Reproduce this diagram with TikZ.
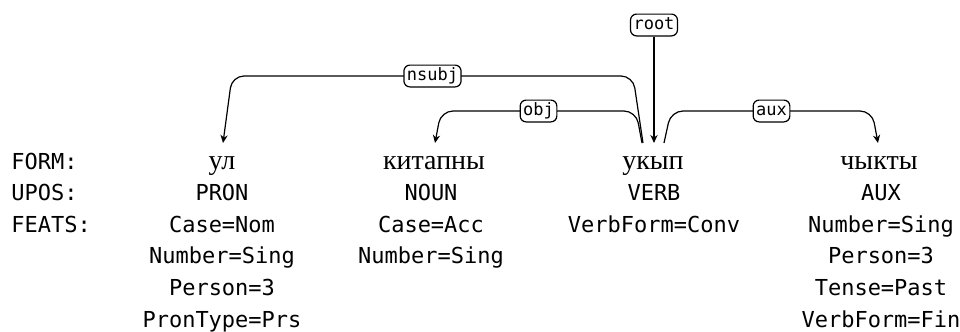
\documentclass[tikz,border=0pt]{standalone}
\usepackage{fontspec}
\setmonofont{DejaVu Sans Mono}
\newfontfamily\cyr{Liberation Serif}
\usetikzlibrary{arrows.meta}
\tikzset{
  cell/.style={anchor=base, inner sep=0pt, font=\ttfamily\fontsize{11}{13}\selectfont},
  hdr/.style={anchor=base west, inner sep=0pt, font=\ttfamily\fontsize{11}{13}\selectfont},
  word/.style={anchor=base, inner sep=0pt, font=\cyr\fontsize{14}{16}\selectfont},
  rel/.style={draw, line width=0.6pt, rounded corners=3pt, fill=white,
    font=\ttfamily\fontsize{8.5}{10}\selectfont, inner xsep=1.5pt, inner ysep=1.2pt,
    text height=6.5pt, text depth=2pt},
  arc/.style={draw, line width=0.6pt, rounded corners=6pt, -{Stealth[length=4pt,width=3.6pt]}},
}
\begin{document}
\begin{tikzpicture}[x=0.5pt,y=-0.5pt]
\useasboundingbox (0,0) rectangle (960,332);
% header labels
\node[hdr] (hform)  at (11,169)   {FORM:};
\node[hdr] (hupos)  at (11,200.6) {UPOS:};
\node[hdr] (hfeats) at (11,232.2) {FEATS:};
% column 1
\node[word] (w1) at (222,169) {ул};
\node[cell] (p1) at (222,200.6) {PRON};
\node[cell] (f1a) at (222,232.2) {Case=Nom};
\node[cell] (f1b) at (222,263.8) {Number=Sing};
\node[cell] (f1c) at (222,295.4) {Person=3};
\node[cell] (f1d) at (222,327) {PronType=Prs};
% column 2
\node[word] (w2) at (434,169) {китапны};
\node[cell] (p2) at (431,200.6) {NOUN};
\node[cell] (f2a) at (431,232.2) {Case=Acc};
\node[cell] (f2b) at (431,263.8) {Number=Sing};
% column 3
\node[word] (w3) at (653,169) {укып};
\node[cell] (p3) at (654,200.6) {VERB};
\node[cell] (f3a) at (654,232.2) {VerbForm=Conv};
% column 4
\node[word] (w4) at (879,169) {чыкты};
\node[cell] (p4) at (881,200.6) {AUX};
\node[cell] (f4a) at (881,232.2) {Number=Sing};
\node[cell] (f4b) at (881,263.8) {Person=3};
\node[cell] (f4c) at (881,295.4) {Tense=Past};
\node[cell] (f4d) at (881,327) {VerbForm=Fin};
% attachment points
\coordinate (t1) at (223,143);
\coordinate (t2) at (435,143);
\coordinate (s3a) at (643,143);
\coordinate (s3b) at (642,143);
\coordinate (t3) at (654,143);
\coordinate (s3c) at (664,143);
\coordinate (t4) at (878,143);
% arcs
\draw[arc] (s3a) -- (633,76) -- node[rel] (lnsubj) {nsubj} (232,76) -- (t1);
\draw[arc] (s3b) -- (636,111) -- node[rel] (lobj) {obj} (441,111) -- (t2);
\draw[arc] (s3c) -- (671,111) -- node[rel] (laux) {aux} (872,111) -- (t4);
\node[rel] (lroot) at (654,25) {root};
\draw[arc] (lroot) -- (t3);
\end{tikzpicture}
\end{document}
